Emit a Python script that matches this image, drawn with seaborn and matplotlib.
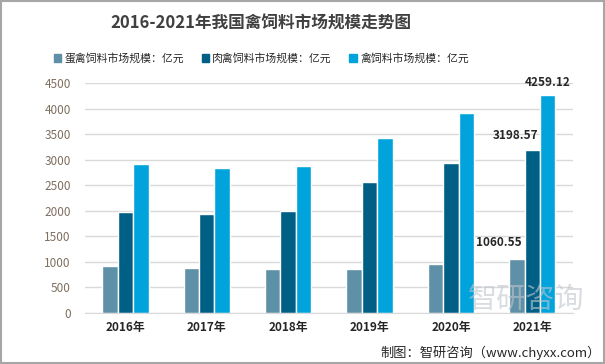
import pandas as pd
import matplotlib
matplotlib.use('Agg')
import matplotlib.pyplot as plt
import seaborn as sns

sns.set_style('white')
plt.rcParams['font.family'] = ['Noto Sans CJK SC', 'DejaVu Sans']

years = ['2016年', '2017年', '2018年', '2019年', '2020年', '2021年']
series = ['蛋禽饲料市场规模：亿元', '肉禽饲料市场规模：亿元', '禽饲料市场规模：亿元']
egg = [920, 880, 862, 862, 960, 1060.55]
meat = [1976, 1937, 1996, 2563, 2935, 3198.57]
total = [2915, 2837, 2875, 3424, 3913, 4259.12]
colors = ['#5E90A7', '#005F84', '#00A3DC']

df = pd.DataFrame({'year': years * 3,
                   'series': [s for s in series for _ in years],
                   'value': egg + meat + total})

fig = plt.figure(figsize=(6.05, 3.64), dpi=100)
ax = fig.add_axes([0.14, 0.14, 0.807, 0.632])

sns.barplot(data=df, x='year', y='value', hue='series', palette=colors,
            width=0.57, ax=ax, legend=False, saturation=1)

ax.set_ylim(0, 4500)
ax.set_yticks(range(0, 4501, 500))
ax.yaxis.grid(True, color='#D9D9D9', linewidth=1)
ax.set_axisbelow(True)
for s in ['top', 'right', 'left']:
    ax.spines[s].set_visible(False)
ax.spines['bottom'].set_color('#D9D9D9')
ax.tick_params(axis='both', length=0)
ax.tick_params(axis='y', labelsize=8.5, labelcolor='#7F6F5F', pad=10)
ax.tick_params(axis='x', labelsize=8.5, pad=6)
for t in ax.get_xticklabels():
    t.set_fontweight('bold')
    t.set_color('#262626')
ax.set_xlabel('')
ax.set_ylabel('')

# value labels for 2021, sitting up and left of the bar tops
offsets = [(-0.22, 200), (-0.2, 150), (0.0, 130)]
for cont, vals, (dx, dy) in zip(ax.containers, [egg, meat, total], offsets):
    b = cont[-1]
    ax.text(b.get_x() + b.get_width() / 2 + dx, b.get_height() + dy, f'{vals[-1]:.2f}',
            ha='center', va='bottom', fontsize=8.5, fontweight='bold', color='#262626')

# legend
handles = [plt.Rectangle((0, 0), 1, 1, color=c) for c in colors]
fig.legend(handles, series, loc='center', bbox_to_anchor=(0.432, 0.84), ncol=3,
           frameon=False, fontsize=7.8, handlelength=0.7, handleheight=0.7,
           handletextpad=0.3, columnspacing=1.6)

fig.text(0.432, 0.935, '2016-2021年我国禽饲料市场规模走势图', ha='center', va='center',
         fontsize=12, fontweight='bold', color='#404040')
fig.text(0.993, 0.032, '制图：智研咨询（www.chyxx.com）', ha='right', va='center',
         fontsize=9.5, color='#262626')
fig.text(0.87, 0.175, '智研咨询', ha='center', va='center', fontsize=21,
         color='#C0C6CC', alpha=0.6, zorder=0)

fig.patches.append(plt.Rectangle((0.001, 0.002), 0.997, 0.995, transform=fig.transFigure,
                                 fill=False, edgecolor='#A6A6A6', linewidth=1.5))

fig.savefig('out.png', dpi=100)
